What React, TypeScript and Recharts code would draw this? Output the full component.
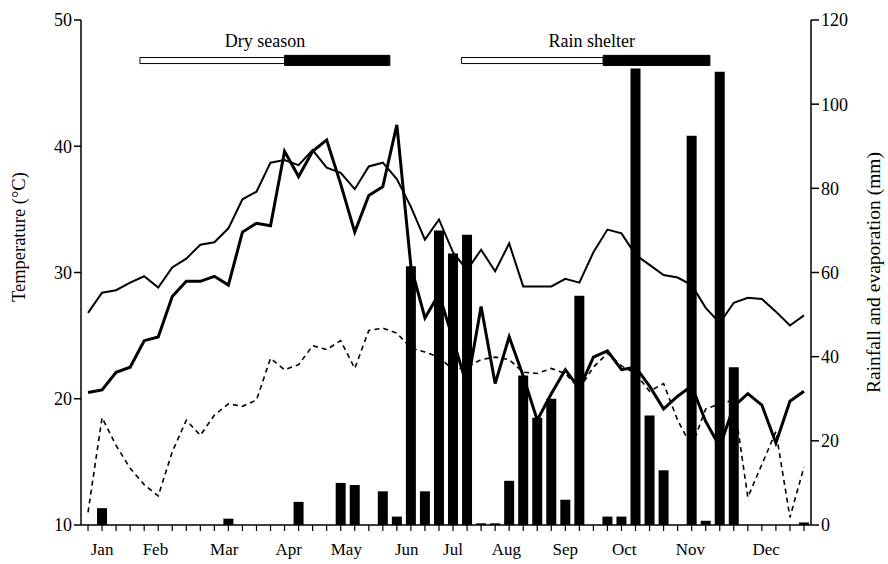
import React from 'react';
import { ComposedChart, Line, Bar, XAxis, YAxis, ReferenceArea } from 'recharts';

// weekly values, Jan week 1 .. Dec week 52
const maxTemp = [
  26.8, 28.4, 28.6, 29.2, 29.7, 28.8, 30.4, 31.1, 32.2, 32.4, 33.5, 35.8, 36.4,
  38.7, 38.9, 38.5, 39.7, 38.3, 37.9, 36.6, 38.4, 38.7, 37.4, 35.2, 32.6, 34.2,
  31.6, 30.2, 31.8, 30.1, 32.3, 28.9, 28.9, 28.9, 29.5, 29.2, 31.6, 33.4, 33.1,
  31.4, 30.6, 29.8, 29.6, 29.0, 27.2, 26.0, 27.6, 28.0, 27.9, 26.9, 25.8, 26.6,
];

const minTemp = [
  11.0, 18.5, 16.3, 14.5, 13.2, 12.3, 15.8, 18.3, 17.1, 18.7, 19.6, 19.4, 19.9,
  23.2, 22.3, 22.7, 24.2, 23.9, 24.6, 22.4, 25.4, 25.6, 25.2, 24.0, 23.7, 23.3,
  22.3, 22.5, 23.1, 23.3, 23.1, 22.1, 22.0, 22.4, 22.0, 20.8, 22.5, 23.6, 22.6,
  22.0, 20.6, 21.2, 18.3, 16.2, 19.2, 19.6, 19.9, 12.2, 14.8, 17.4, 10.6, 14.6,
];

const evaporation = [
  31.5, 32.1, 36.3, 37.5, 43.8, 44.7, 54.3, 57.9, 57.9, 59.1, 57.0, 69.6, 71.7,
  71.1, 88.8, 82.8, 88.8, 91.5, 81.0, 69.6, 78.3, 80.4, 95.1, 61.5, 49.2, 54.9,
  44.1, 33.0, 51.9, 33.6, 44.7, 35.4, 24.9, 31.2, 36.9, 32.4, 39.9, 41.4, 36.9,
  37.5, 33.0, 27.6, 30.6, 33.0, 24.6, 18.6, 28.2, 31.2, 28.5, 19.5, 29.4, 31.8,
];

const rainfall = [
  0, 4, 0, 0, 0, 0, 0, 0, 0, 0, 1.5, 0, 0,
  0, 0, 5.5, 0, 0, 10, 9.5, 0, 8, 2, 61.5, 8, 70,
  64.5, 69, 0.4, 0.4, 10.5, 35.5, 25.5, 30, 6, 54.5, 0, 2, 2,
  108.5, 26, 13, 0, 92.5, 1, 107.7, 37.5, 0, 0, 0, 0, 0.6,
];

const months = ['Jan', 'Feb', 'Mar', 'Apr', 'May', 'Jun', 'Jul', 'Aug', 'Sep', 'Oct', 'Nov', 'Dec'];
const monthWeek = [1, 4.8, 9.7, 14.3, 18.4, 22.7, 26, 29.8, 34, 38.2, 42.9, 48.3];

// season markers, in weeks
const dryOpen = [3.7, 14.0];
const dryShut = [14.0, 21.5];
const rainOpen = [26.6, 36.7];
const rainShut = [36.7, 44.3];

const tempTicks = [10, 20, 30, 40, 50];
const mmTicks = [0, 20, 40, 60, 80, 100, 120];

const data = maxTemp.map((t, i) => ({
  week: i,
  maxTemp: t,
  minTemp: minTemp[i],
  evap: evaporation[i],
  rain: rainfall[i],
}));

const FONT = '"Liberation Serif", "DejaVu Serif", serif';
const tickStyle = { fill: '#000', fontSize: 18, fontFamily: FONT };

// rotated axis title, placed inside the axis box
const sideTitle = (text: string, side: 'left' | 'right', at: number, size: number) => (props: any) => {
  const vb = props.viewBox || {};
  const x = side === 'left' ? vb.x + 8 : vb.x + vb.width - 8;
  const y = vb.y + vb.height * at;
  return (
    <text
      x={x}
      y={y}
      transform={`rotate(-90, ${x}, ${y})`}
      textAnchor="middle"
      dominantBaseline="central"
      fill="#000"
      fontSize={size}
      fontFamily={FONT}
    >
      {text}
    </text>
  );
};

export default function App() {
  return (
    <div style={{ position: 'absolute', left: 0, top: 0, background: '#fff' }}>
      <ComposedChart
        width={888}
        height={564}
        data={data}
        margin={{ top: 20, right: 7, bottom: 0, left: 11 }}
        style={{ fontFamily: FONT }}
      >
        {/* weekly tick marks, next to the plot */}
        <XAxis
          xAxisId="a"
          dataKey="week"
          type="category"
          interval={0}
          height={7}
          tickSize={6}
          tickFormatter={() => ''}
          axisLine={{ stroke: '#000', strokeWidth: 1.5 }}
          tickLine={{ stroke: '#000', strokeWidth: 1.2 }}
        />
        {/* month names, below */}
        <XAxis
          xAxisId="b"
          dataKey="week"
          type="number"
          domain={[-0.5, 51.5]}
          allowDataOverflow
          ticks={monthWeek}
          interval={0}
          tickFormatter={(v) => months[monthWeek.indexOf(v)]}
          height={32}
          axisLine={false}
          tickLine={false}
          tick={{ ...tickStyle, fontSize: 17, dy: 3 }}
        />
        <YAxis
          yAxisId="temp"
          orientation="left"
          width={70}
          domain={[10, 50]}
          ticks={tempTicks}
          interval={0}
          tickSize={7}
          tick={tickStyle}
          axisLine={{ stroke: '#000', strokeWidth: 1.5 }}
          tickLine={{ stroke: '#000', strokeWidth: 1.5 }}
          label={{ content: sideTitle('Temperature (°C)', 'left', 0.43, 18.5) }}
        />
        <YAxis
          yAxisId="mm"
          orientation="right"
          width={70}
          domain={[0, 120]}
          ticks={mmTicks}
          interval={0}
          tickSize={8}
          tick={tickStyle}
          axisLine={{ stroke: '#000', strokeWidth: 1.5 }}
          tickLine={{ stroke: '#000', strokeWidth: 1.5 }}
          label={{ content: sideTitle('Rainfall and evaporation (mm)', 'right', 0.5, 19.5) }}
        />

        <ReferenceArea
          xAxisId="b"
          yAxisId="temp"
          x1={dryOpen[0]}
          x2={dryShut[1]}
          y1={46.4}
          y2={47.2}
          fill="none"
          stroke="none"
          ifOverflow="visible"
          label={{ value: 'Dry season', position: 'top', offset: 8, fill: '#000', fontSize: 18, fontFamily: FONT }}
        />
        <ReferenceArea xAxisId="b" yAxisId="temp" x1={dryOpen[0]} x2={dryOpen[1]} y1={46.55} y2={47.03} fill="#fff" stroke="#000" strokeWidth={1} fillOpacity={1} ifOverflow="visible" />
        <ReferenceArea xAxisId="b" yAxisId="temp" x1={dryShut[0]} x2={dryShut[1]} y1={46.4} y2={47.2} fill="#000" stroke="#000" fillOpacity={1} ifOverflow="visible" />

        <ReferenceArea
          xAxisId="b"
          yAxisId="temp"
          x1={rainOpen[0]}
          x2={rainShut[1]}
          y1={46.4}
          y2={47.2}
          fill="none"
          stroke="none"
          ifOverflow="visible"
          label={{ value: 'Rain shelter', position: 'top', offset: 8, dx: 6, fill: '#000', fontSize: 18, fontFamily: FONT }}
        />
        <ReferenceArea xAxisId="b" yAxisId="temp" x1={rainOpen[0]} x2={rainOpen[1]} y1={46.55} y2={47.03} fill="#fff" stroke="#000" strokeWidth={1} fillOpacity={1} ifOverflow="visible" />
        <ReferenceArea xAxisId="b" yAxisId="temp" x1={rainShut[0]} x2={rainShut[1]} y1={46.4} y2={47.2} fill="#000" stroke="#000" fillOpacity={1} ifOverflow="visible" />

        <Line
          xAxisId="a"
          yAxisId="temp"
          dataKey="maxTemp"
          type="linear"
          stroke="#000"
          strokeWidth={2}
          dot={false}
          isAnimationActive={false}
        />
        <Line
          xAxisId="a"
          yAxisId="temp"
          dataKey="minTemp"
          type="linear"
          stroke="#000"
          strokeWidth={1.6}
          strokeDasharray="5 4"
          dot={false}
          isAnimationActive={false}
        />
        <Line
          xAxisId="a"
          yAxisId="mm"
          dataKey="evap"
          type="linear"
          stroke="#000"
          strokeWidth={3}
          dot={false}
          isAnimationActive={false}
        />
        <Bar
          xAxisId="a"
          yAxisId="mm"
          dataKey="rain"
          fill="#000"
          barSize={10}
          zIndex={450}
          isAnimationActive={false}
        />
      </ComposedChart>
    </div>
  );
}
